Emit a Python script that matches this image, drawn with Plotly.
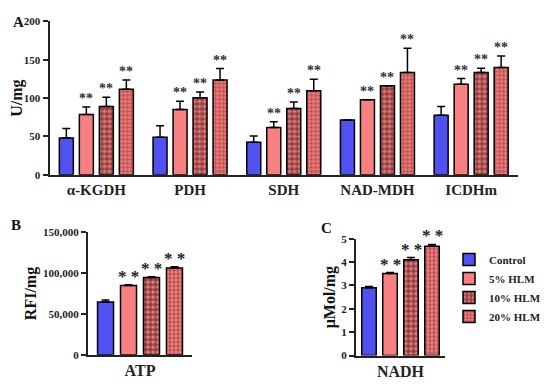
import plotly.graph_objects as go

# ---------------- data ----------------
groups = ["Control", "5% HLM", "10% HLM", "20% HLM"]

enzymes = ["α-KGDH", "PDH", "SDH", "NAD-MDH", "ICDHm"]
enz_vals = {
    "Control": [48, 49, 42.5, 71.5, 77.5],
    "5% HLM": [78.5, 85, 61.5, 98, 118],
    "10% HLM": [89, 100.5, 86.5, 116, 133.5],
    "20% HLM": [111.5, 123.5, 109.5, 133.5, 140],
}
enz_err = {
    "Control": [12.5, 15, 8, 0, 11.5],
    "5% HLM": [10, 11, 7.5, 0, 7.5],
    "10% HLM": [12, 7.5, 8.5, 0, 5.5],
    "20% HLM": [12, 15, 15, 31.5, 15],
}
enz_sig = {
    "Control": [False] * 5,
    "5% HLM": [True] * 5,
    "10% HLM": [True] * 5,
    "20% HLM": [True] * 5,
}

atp_cat = ["ATP"]
atp_vals = [64700, 84800, 94700, 106200]
atp_err = [2400, 900, 800, 1500]
atp_sig = [False, True, True, True]

nadh_cat = ["NADH"]
nadh_vals = [2.9, 3.51, 4.1, 4.67]
nadh_err = [0.05, 0.04, 0.09, 0.08]
nadh_sig = [False, True, True, True]

# ---------------- styles ----------------
BLUE = "#5151F2"
SALMON = "#F98080"
FONT = "Liberation Serif"
fills = {
    "Control": dict(color=BLUE),
    "5% HLM": dict(color=SALMON),
    "10% HLM": dict(color=SALMON, pattern=dict(shape=".", fgcolor="#1e0505",
                                                 bgcolor=SALMON, size=5, solidity=0.7)),
    "20% HLM": dict(color=SALMON, pattern=dict(shape="+", fgcolor="#4a0808",
                                                 bgcolor=SALMON, size=4, solidity=0.4)),
}

BARGAP = 0.146
GROUPGAP = 0.3

fig = go.Figure()


def marker_for(g):
    m = dict(fills[g])
    m["line"] = dict(color="black", width=1.5)
    return m


def err_for(arr):
    return dict(type="data", array=arr, arrayminus=[0] * len(arr), symmetric=False,
                color="black", thickness=1.5, width=4)


# Panel A
for k, g in enumerate(groups):
    fig.add_trace(go.Bar(
        x=enzymes, y=enz_vals[g], name=g, marker=marker_for(g),
        error_y=err_for(enz_err[g]), xaxis="x", yaxis="y", showlegend=False,
    ))
    gw = 1 - BARGAP
    slot = gw / len(groups)
    off = -gw / 2 + (k + 0.5) * slot
    for i, e in enumerate(enzymes):
        if enz_sig[g][i]:
            fig.add_annotation(x=i + off, y=enz_vals[g][i] + enz_err[g][i],
                               xref="x", yref="y", text="<b>**</b>", showarrow=False,
                               yanchor="bottom", yshift=-1,
                               font=dict(family=FONT, size=14, color="#333"))


def small_panel(cat, vals, errs, sig, xa, ya, bar_w, slot, fsize, legend):
    span = slot * (len(groups) - 1) + bar_w
    start = -span / 2
    for k, g in enumerate(groups):
        fig.add_trace(go.Bar(
            x=cat, y=[vals[k]], name=g, marker=marker_for(g),
            error_y=err_for([errs[k]]), xaxis=xa, yaxis=ya,
            width=bar_w, offset=start + k * slot, showlegend=legend,
        ))
        if sig[k]:
            fig.add_annotation(x=start + k * slot + bar_w / 2, y=vals[k] + errs[k],
                               xref=xa, yref=ya, text="<b>* *</b>", showarrow=False,
                               yanchor="bottom", yshift=-3,
                               font=dict(family=FONT, size=fsize, color="#222"))


small_panel(atp_cat, atp_vals, atp_err, atp_sig, "x2", "y2", 0.154, 0.221, 17, False)
small_panel(nadh_cat, nadh_vals, nadh_err, nadh_sig, "x3", "y3", 0.163, 0.236, 17, True)

# page body has an 8px margin; figure occupies the rest of the window
OFF = 8
W, H = 550 - OFF, 387 - OFF


def px_x(p):
    return (p - OFF) / W


def px_y(p):
    return (387 - p) / H


axis_common = dict(showline=True, linecolor="#222", linewidth=2, ticks="outside",
                   ticklen=5, tickwidth=1.5, tickcolor="#222", showgrid=False,
                   zeroline=False, mirror=False)
xaxis_common = {**axis_common, "ticks": ""}
ytick_font = dict(family=FONT, size=11, color="#222")
ytitle_font = dict(family=FONT, size=16, color="#111")

fig.update_layout(
    width=W, height=H,
    margin=dict(l=0, r=0, t=0, b=0),
    paper_bgcolor="white", plot_bgcolor="white",
    barmode="group", bargap=BARGAP, bargroupgap=GROUPGAP,
    font=dict(family=FONT, color="#222"),
    xaxis=dict(domain=[px_x(49.5), px_x(518)], anchor="y", **xaxis_common,
               tickfont=dict(family=FONT, size=15, color="#222")),
    yaxis=dict(domain=[px_y(174), px_y(15.7)], anchor="x", range=[0, 200], dtick=50,
               **axis_common, tickfont=ytick_font,
               title=dict(text="<b>U/mg</b>", font=ytitle_font, standoff=2)),
    xaxis2=dict(domain=[px_x(88), px_x(192)], anchor="y2", **xaxis_common,
                tickfont=dict(family=FONT, size=16, color="#222")),
    yaxis2=dict(domain=[px_y(360), px_y(233.3)], anchor="x2", range=[0, 150000],
                dtick=50000, tickformat=",d", **axis_common, tickfont=ytick_font,
                title=dict(text="<b>RFI/mg</b>", font=ytitle_font, standoff=2)),
    xaxis3=dict(domain=[px_x(356), px_x(445)], anchor="y3", **xaxis_common,
                tickfont=dict(family=FONT, size=16, color="#222")),
    yaxis3=dict(domain=[px_y(360.7), px_y(240)], anchor="x3", range=[0, 5], dtick=1,
                **axis_common, tickfont=ytick_font,
                title=dict(text="<b>μMol/mg</b>", font=ytitle_font, standoff=2)),
    legend=dict(x=px_x(449), y=px_y(246.5), xanchor="left", yanchor="top",
                font=dict(family=FONT, size=11, color="#222"), bgcolor="rgba(0,0,0,0)",
                traceorder="normal"),
)

# bold tick labels
fig.update_xaxes(tickprefix="<b>", ticksuffix="</b>")
fig.update_yaxes(tickprefix="<b>", ticksuffix="</b>")
for tr in fig.data:
    tr.name = f"<b>{tr.name}</b>"

for letter, x, y in [("A", 18, 16), ("B", 16, 226), ("C", 326, 229)]:
    fig.add_annotation(x=px_x(x), y=px_y(y), xref="paper", yref="paper", text=f"<b>{letter}</b>",
                       xanchor="center", yanchor="middle",
                       showarrow=False, font=dict(family=FONT, size=15, color="#111"))

fig.write_html("out.html")
